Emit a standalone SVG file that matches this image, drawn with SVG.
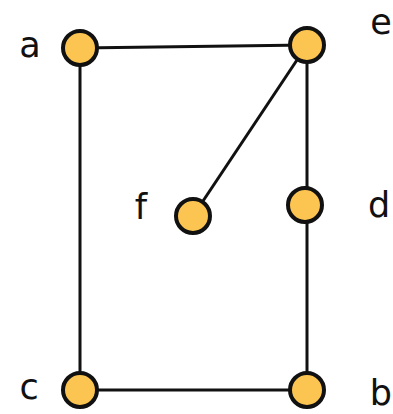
<svg xmlns="http://www.w3.org/2000/svg" width="393" height="414" viewBox="0 0 393 414">
<style>
.edge{stroke:#111;stroke-width:3;fill:none}
.node circle{fill:#FCC451;stroke:#111;stroke-width:4}
.node text{font-family:"DejaVu Sans",sans-serif;font-size:35px;fill:#111}
</style>
<rect width="393" height="414" fill="#fff"/>
<g id="edges">
<line class="edge" x1="80" y1="48" x2="307" y2="45"/>
<line class="edge" x1="80" y1="48" x2="80" y2="390"/>
<line class="edge" x1="80" y1="390" x2="307" y2="390"/>
<line class="edge" x1="307" y1="45" x2="307" y2="390"/>
<line class="edge" x1="307" y1="45" x2="193" y2="216"/>
</g>
<g id="a" class="node"><circle cx="80" cy="48" r="17"/><text x="30" y="57" text-anchor="middle">a</text></g>
<g id="e" class="node"><circle cx="307" cy="45" r="17"/><text x="381" y="34" text-anchor="middle">e</text></g>
<g id="f" class="node"><circle cx="193" cy="216" r="17"/><text x="141" y="219" text-anchor="middle">f</text></g>
<g id="d" class="node"><circle cx="305" cy="205" r="17"/><text x="379" y="217" text-anchor="middle">d</text></g>
<g id="c" class="node"><circle cx="80" cy="390" r="17"/><text x="29" y="399" text-anchor="middle">c</text></g>
<g id="b" class="node"><circle cx="307" cy="390" r="17"/><text x="392" y="405" text-anchor="end">b</text></g>
</svg>
